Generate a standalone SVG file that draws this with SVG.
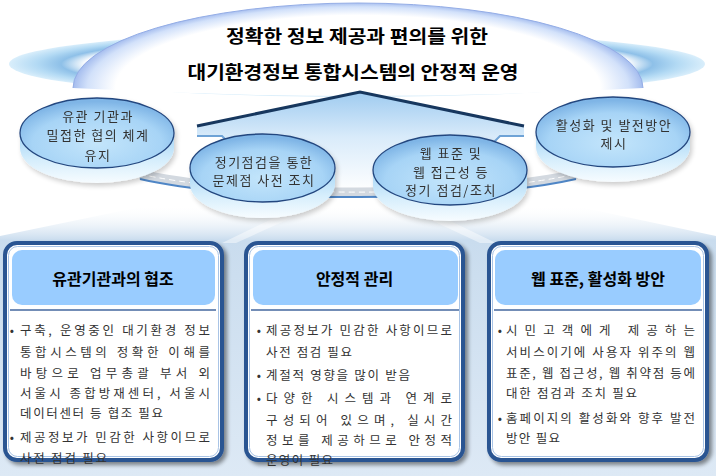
<svg xmlns="http://www.w3.org/2000/svg" width="716" height="476" viewBox="0 0 716 476">
<defs>
  <style>
    .ttl{font-family:"Noto Sans CJK KR","Noto Sans",sans-serif;font-weight:bold;fill:#000;}
    .hd{font-family:"Noto Sans CJK KR","Noto Sans",sans-serif;font-weight:bold;font-size:16px;fill:#000;text-anchor:middle;}
    .ct{font-family:"Noto Sans CJK KR","Noto Sans",sans-serif;font-size:13px;fill:#333;text-anchor:middle;letter-spacing:1.5px;}
    .bd{font-family:"Noto Sans CJK KR","Noto Sans",sans-serif;font-size:12.5px;fill:#333;}
    .bl{font-family:"Noto Sans CJK KR","Noto Sans",sans-serif;font-size:12.5px;fill:#333;text-anchor:middle;}
    .box{fill:#fff;stroke:#2b5592;stroke-width:4;}
    .boxin{fill:none;stroke:#a9c4e6;stroke-width:1;}
    .head{fill:#99ccff;}
    .sep{stroke:#45679e;stroke-width:1.5;}
    .face{fill:url(#faceG);stroke:#24477f;stroke-width:1.3;}
    .side{fill:url(#sideG);}
  </style>
  <radialGradient id="haloG" cx="50%" cy="50%" r="50%">
    <stop offset="0" stop-color="#ffffff"/>
    <stop offset="0.78" stop-color="#ffffff"/>
    <stop offset="0.85" stop-color="#8ec0e8"/>
    <stop offset="0.92" stop-color="#b3daf4"/>
    <stop offset="1" stop-color="#d9eefb"/>
  </radialGradient>
  <radialGradient id="domeG" gradientUnits="userSpaceOnUse" cx="358" cy="88" r="285" gradientTransform="translate(358 88) scale(1 0.3) translate(-358 -88)">
    <stop offset="0" stop-color="#ffffff"/>
    <stop offset="0.85" stop-color="#ffffff"/>
    <stop offset="0.95" stop-color="#d2e1fa"/>
    <stop offset="1" stop-color="#a4bcee"/>
  </radialGradient>
  <linearGradient id="arrowG" gradientUnits="userSpaceOnUse" x1="0" y1="92" x2="0" y2="192">
    <stop offset="0" stop-color="#9fcbf0"/>
    <stop offset="0.45" stop-color="#d9ebfa"/>
    <stop offset="1" stop-color="#ffffff"/>
  </linearGradient>
  <linearGradient id="beamG" gradientUnits="userSpaceOnUse" x1="0" y1="205" x2="0" y2="476">
    <stop offset="0" stop-color="#ffffff" stop-opacity="0"/>
    <stop offset="0.13" stop-color="#c9dcee"/>
    <stop offset="1" stop-color="#dde9f5"/>
  </linearGradient>
  <radialGradient id="faceG" cx="50%" cy="65%" r="60%">
    <stop offset="0" stop-color="#c3e5fb"/>
    <stop offset="0.7" stop-color="#a7d4f6"/>
    <stop offset="1" stop-color="#7fb5e6"/>
  </radialGradient>
  <linearGradient id="sideG" x1="0" y1="0" x2="0" y2="1">
    <stop offset="0" stop-color="#a3d4f6"/>
    <stop offset="0.55" stop-color="#d6eefc"/>
    <stop offset="1" stop-color="#f7fcff"/>
  </linearGradient>
  <filter id="sh" x="-5%" y="-5%" width="115%" height="115%">
    <feGaussianBlur in="SourceAlpha" stdDeviation="2"/>
    <feOffset dx="3" dy="3"/>
    <feComponentTransfer><feFuncA type="linear" slope="0.45"/></feComponentTransfer>
    <feMerge><feMergeNode/><feMergeNode in="SourceGraphic"/></feMerge>
  </filter>
  <filter id="csh" x="-10%" y="-10%" width="125%" height="140%">
    <feGaussianBlur in="SourceAlpha" stdDeviation="2.5"/>
    <feOffset dx="2" dy="3"/>
    <feComponentTransfer><feFuncA type="linear" slope="0.2"/></feComponentTransfer>
    <feMerge><feMergeNode/><feMergeNode in="SourceGraphic"/></feMerge>
  </filter>
</defs>

<!-- background beam -->
<polygon points="150,205 570,205 716,236 716,476 0,476 0,236" fill="url(#beamG)"/>
<polygon points="282,214 300,214 236,243 222,243" fill="#ffffff" opacity="0.45"/>
<polygon points="418,214 436,214 496,243 480,243" fill="#ffffff" opacity="0.45"/>

<!-- dome -->
<g id="dome">
  <ellipse cx="357" cy="64" rx="348" ry="33" fill="url(#haloG)"/>
  <path d="M73,88 A285,85 0 0 1 643,88 Q358,104 73,88 Z" fill="url(#domeG)"/>
  <path d="M73,88 A285,85 0 0 1 643,88" fill="none" stroke="#94ade6" stroke-width="1"/>
  <text class="ttl" x="357" y="42.5" font-size="18" text-anchor="middle" textLength="262" lengthAdjust="spacingAndGlyphs">정확한 정보 제공과 편의를 위한</text>
  <text class="ttl" x="353" y="78.5" font-size="18" text-anchor="middle" textLength="331" lengthAdjust="spacingAndGlyphs">대기환경정보 통합시스템의 안정적 운영</text>
</g>

<!-- connectors: arrow and band -->
<g id="connectors">
  <polygon points="360,92 524,126 524,136 500,136 486,150 486,192 236,192 236,150 222,136 197,136 197,126" fill="url(#arrowG)"/>
  <polyline points="524,136 500,136 486,150" fill="none" stroke="#6fa3d6" stroke-width="2"/>
  <polyline points="197,136 222,136 236,150" fill="none" stroke="#6fa3d6" stroke-width="2"/>
  <polyline points="197,126 360,92 524,126" fill="none" stroke="#17375e" stroke-width="3" stroke-linejoin="miter"/>
  <path d="M140,174 A265,42 0 0 0 576,174" fill="none" stroke="#d3d9e0" stroke-width="9"/>
  <path d="M140,174 A265,42 0 0 0 576,174" fill="none" stroke="#ffffff" stroke-width="1" stroke-dasharray="6 4"/>
  <path d="M140,179 A265,42 0 0 0 576,179" fill="none" stroke="#4f86c6" stroke-width="2"/>
</g>

<!-- circles -->
<g id="circle-1" filter="url(#csh)">
  <path class="side" d="M20,133 L20,148 A77,35 0 0 0 174,148 L174,133 Z"/>
  <ellipse class="face" cx="97" cy="133" rx="77" ry="35"/>
  <text class="ct" x="98" y="120.5">유관 기관과</text>
  <text class="ct" x="98" y="139.5">밀접한 협의 체계</text>
  <text class="ct" x="98" y="159.5">유지</text>
</g>
<g id="circle-2" filter="url(#csh)">
  <path class="side" d="M190,168 L190,184 A72.5,34 0 0 0 335,184 L335,168 Z"/>
  <ellipse class="face" cx="262.5" cy="168" rx="72.5" ry="34"/>
  <text class="ct" x="264" y="166.5">정기점검을 통한</text>
  <text class="ct" x="264" y="184.5">문제점 사전 조치</text>
</g>
<g id="circle-3" filter="url(#csh)">
  <path class="side" d="M373,170 L373,186 A77,35 0 0 0 527,186 L527,170 Z"/>
  <ellipse class="face" cx="450" cy="170" rx="77" ry="35"/>
  <text class="ct" x="451" y="157.5">웹 표준 및</text>
  <text class="ct" x="451" y="176.5">웹 접근성 등</text>
  <text class="ct" x="451" y="194.5">정기 점검/조치</text>
</g>
<g id="circle-4" filter="url(#csh)">
  <path class="side" d="M536,132 L536,147 A77,35 0 0 0 690,147 L690,132 Z"/>
  <ellipse class="face" cx="613" cy="132" rx="77" ry="35"/>
  <text class="ct" x="614" y="129.5">활성화 및 발전방안</text>
  <text class="ct" x="614" y="147.5">제시</text>
</g>

<!-- box 1 -->
<g id="box-cooperation">
  <rect class="box" x="5" y="243" width="217" height="217" rx="12" filter="url(#sh)"/>
  <rect class="boxin" x="8.5" y="246.5" width="210" height="210" rx="9"/>
  <rect class="head" x="12" y="250" width="203" height="55" rx="10"/>
  <line class="sep" x1="10" y1="310" x2="216" y2="310"/>
  <text class="hd" x="113" y="284.5">유관기관과의 협조</text>
  <text class="bl" x="12" y="335">•</text>
  <text class="bd" x="20" y="335" textLength="190" lengthAdjust="spacing">구축, 운영중인 대기환경 정보</text>
  <text class="bd" x="20" y="356.5" textLength="190" lengthAdjust="spacing">통합시스템의 정확한 이해를</text>
  <text class="bd" x="20" y="378" textLength="190" lengthAdjust="spacing">바탕으로 업무총괄 부서 외</text>
  <text class="bd" x="20" y="398" textLength="190" lengthAdjust="spacing">서울시 종합방재센터, 서울시</text>
  <text class="bd" x="20" y="418" textLength="143" lengthAdjust="spacing">데이터센터 등 협조 필요</text>
  <text class="bl" x="12" y="441.5">•</text>
  <text class="bd" x="20" y="441.5" textLength="190" lengthAdjust="spacing">제공정보가 민감한 사항이므로</text>
  <text class="bd" x="20" y="463" textLength="87" lengthAdjust="spacing">사전 점검 필요</text>
</g>

<!-- box 2 -->
<g id="box-stability">
  <rect class="box" x="246" y="243" width="217" height="217" rx="12" filter="url(#sh)"/>
  <rect class="boxin" x="249.5" y="246.5" width="210" height="210" rx="9"/>
  <rect class="head" x="253" y="250" width="205" height="55" rx="10"/>
  <line class="sep" x1="251" y1="310" x2="459" y2="310"/>
  <text class="hd" x="354.5" y="284.5">안정적 관리</text>
  <text class="bl" x="259" y="335">•</text>
  <text class="bd" x="266" y="335" textLength="186" lengthAdjust="spacing">제공정보가 민감한 사항이므로</text>
  <text class="bd" x="266" y="356.5" textLength="86" lengthAdjust="spacing">사전 점검 필요</text>
  <text class="bl" x="259" y="379.5">•</text>
  <text class="bd" x="266" y="379.5" textLength="144" lengthAdjust="spacing">계절적 영향을 많이 받음</text>
  <text class="bl" x="259" y="402.5">•</text>
  <text class="bd" x="266" y="402.5" textLength="186" lengthAdjust="spacing">다양한 시스템과 연계로</text>
  <text class="bd" x="266" y="424.5" textLength="186" lengthAdjust="spacing">구성되어 있으며, 실시간</text>
  <text class="bd" x="266" y="444.5" textLength="186" lengthAdjust="spacing">정보를 제공하므로 안정적</text>
  <text class="bd" x="266" y="464.5" textLength="67" lengthAdjust="spacing">운영이 필요</text>
</g>

<!-- box 3 -->
<g id="box-webstandard">
  <rect class="box" x="489" y="243" width="218" height="217" rx="12" filter="url(#sh)"/>
  <rect class="boxin" x="492.5" y="246.5" width="211" height="210" rx="9"/>
  <rect class="head" x="495" y="250" width="206" height="55" rx="10"/>
  <line class="sep" x1="494" y1="310" x2="702" y2="310"/>
  <text class="hd" x="598" y="284.5">웹 표준, 활성화 방안</text>
  <text class="bl" x="500" y="334.5">•</text>
  <text class="bd" x="506" y="334.5" textLength="189" lengthAdjust="spacing">시민고객에게  제공하는</text>
  <text class="bd" x="506" y="356.5" textLength="189" lengthAdjust="spacing">서비스이기에 사용자 위주의 웹</text>
  <text class="bd" x="506" y="377.5" textLength="189" lengthAdjust="spacing">표준, 웹 접근성, 웹 취약점 등에</text>
  <text class="bd" x="506" y="397.5" textLength="131" lengthAdjust="spacing">대한 점검과 조치 필요</text>
  <text class="bl" x="500" y="422.5">•</text>
  <text class="bd" x="506" y="422.5" textLength="189" lengthAdjust="spacing">홈페이지의 활성화와 향후 발전</text>
  <text class="bd" x="506" y="442.5" textLength="54" lengthAdjust="spacing">방안 필요</text>
</g>
</svg>
